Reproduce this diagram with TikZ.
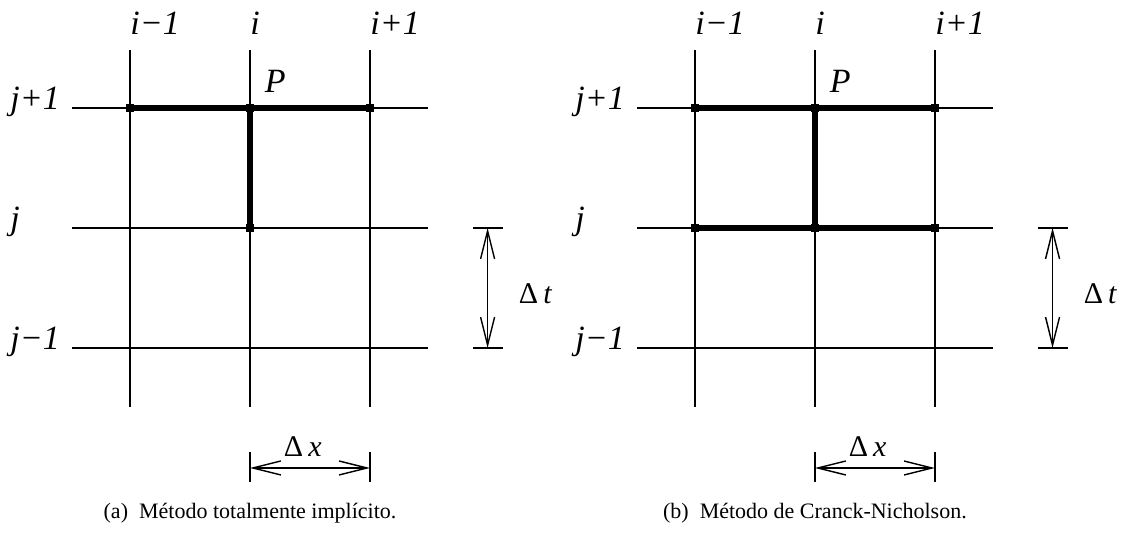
\documentclass[tikz,border=0pt]{standalone}
\usepackage{fontspec}
\setmainfont{Liberation Serif}
\usetikzlibrary{arrows.meta}

\tikzset{
  gridline/.style={line width=0.6pt},
  stencil/.style={line width=2.6pt},
  lbl/.style={inner sep=0pt,anchor=base west,font=\fontsize{17}{20}\selectfont\itshape},
  dimlbl/.style={inner sep=0pt,font=\fontsize{15}{18}\selectfont},
  dimarrow/.style={line width=0.7pt,{Straight Barb[length=14pt,width=7pt]}-{Straight Barb[length=14pt,width=7pt]}},
  caplbl/.style={inner sep=0pt,font=\fontsize{11}{13}\selectfont},
}

\begin{document}
\begin{tikzpicture}[x=60pt,y=60pt]
  \useasboundingbox (-1.0833,-1.55) rectangle (8.3417,2.9);
  \foreach \sx/\tag/\cap in {0/a/{(a)\enspace Método totalmente implícito.},4.708/b/{(b)\enspace Método de Cranck-Nicholson.}} {
    \begin{scope}[shift={(\sx,0)}]
      % mesh
      \foreach \k in {0,1,2} {
        \draw[gridline] (\k,-0.49) -- (\k,2.48);
        \draw[gridline] (-0.48,\k) -- (2.48,\k);
      }
      \foreach \i in {0,1,2} \foreach \j in {0,1,2} \coordinate (\tag-\i\j) at (\i,\j);
      % indices
      \node[lbl] (\tag-im) at (0,2.61) {i−1};
      \node[lbl] (\tag-i)  at (1,2.61) {i};
      \node[lbl] (\tag-ip) at (2,2.61) {i+1};
      \node[lbl] (\tag-jm) at (-1,-0.01) {j−1};
      \node[lbl] (\tag-j)  at (-1,0.99) {j};
      \node[lbl] (\tag-jp) at (-1,1.99) {j+1};
      \node[lbl] (\tag-P)  at (1.12,2.125) {P};
      % steps
      \coordinate (\tag-t1) at (2.98,1);
      \coordinate (\tag-t0) at (2.98,0);
      \draw[gridline] (2.86,1) -- (3.11,1);
      \draw[gridline] (2.86,0) -- (3.11,0);
      \draw[dimarrow] (\tag-t1) -- (\tag-t0);
      \node[dimlbl] (\tag-dt) at (3.38,0.45) {Δ\,\textit{t}};
      \coordinate (\tag-x0) at (1,-1);
      \coordinate (\tag-x1) at (2,-1);
      \draw[gridline] (1,-0.87) -- (1,-1.12);
      \draw[gridline] (2,-0.87) -- (2,-1.12);
      \draw[dimarrow] (\tag-x0) -- (\tag-x1);
      \node[dimlbl] (\tag-dx) at (1.44,-0.82) {Δ\,\textit{x}};
      \node[caplbl] (\tag-cap) at (1,-1.38) {\cap};
    \end{scope}
  }
  % implicit stencil
  \draw[stencil] (a-02) -- (a-22);
  \draw[stencil] (a-12) -- (a-11);
  \foreach \p in {a-02,a-12,a-22,a-11} \fill (\p) +(-2pt,-2pt) rectangle +(2pt,2pt);
  % Crank-Nicolson stencil
  \draw[stencil] (b-02) -- (b-22);
  \draw[stencil] (b-01) -- (b-21);
  \draw[stencil] (b-12) -- (b-11);
  \foreach \p in {b-02,b-12,b-22,b-01,b-11,b-21} \fill (\p) +(-2pt,-2pt) rectangle +(2pt,2pt);
\end{tikzpicture}
\end{document}
